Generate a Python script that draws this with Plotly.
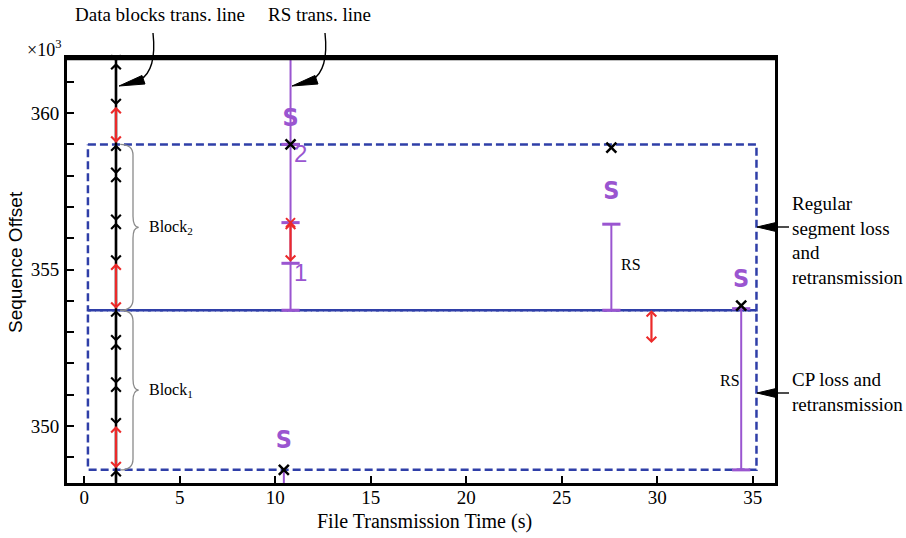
import plotly.graph_objects as go

# ---------------- data (values in units of 10^3 for sequence offset) ----------------
x_ticks = [0, 5, 10, 15, 20, 25, 30, 35]
y_ticks = [350, 355, 360]
y_minor_ticks = [349, 351, 352, 353, 354, 356, 357, 358, 359, 361]

# data-block transmission line
block_time = 1.66
seg_start = [348.6, 350.0, 351.3, 352.65, 353.7, 355.2, 356.5, 358.0, 359.0, 360.2]
seg_end = [350.0, 351.3, 352.65, 353.7, 355.2, 356.5, 358.0, 359.0, 360.2, 361.6]
seg_retrans = [True, False, False, False, True, False, False, False, True, False]

# block boundaries (block1: low..mid, block2: mid..high)
block_bounds = [348.6, 353.7, 359.0]
block_labels = ["Block<sub>1</sub>", "Block<sub>2</sub>"]
rect_t0, rect_t1 = 0.19, 35.2

# RS transmission line
rs_line_time = 10.8
rs_line_start = 353.7
rs_caps = [353.7, 355.2, 356.5, 359.0]
rs_retx_lo, rs_retx_hi = 355.2, 356.5
rs_num_seq = [355.2, 359.0]
rs_num_text = ["1", "2"]

# separate RS retransmissions
rs_time = [27.6, 34.4]
rs_lo = [353.7, 348.6]
rs_hi = [356.45, 353.75]
rs_label_time = [28.0, 33.2]
rs_label_seq = [355.15, 351.45]

# lost segments (X marks)
loss_time = [10.8, 10.45, 27.6, 34.4]
loss_seq = [359.0, 348.6, 358.9, 353.85]

# "S" marks
s_time = [10.8, 10.45, 27.6, 34.4]
s_seq = [359.8, 349.5, 357.45, 354.65]

# CP loss arrow
cp_time = 29.7
cp_lo, cp_hi = 352.65, 353.75

# ---------------- styling ----------------
W, H = 906, 538
ML, MR, MT, MB = 67, 131, 58, 55
X_RANGE = [-0.906, 36.17]
Y_RANGE = [348.18, 361.76]
BLACK = "#000000"
RED = "#ec2a2a"
PURPLE = "#9a55d0"
BLUE = "#2f3fa8"
GRAY = "#8a8a8a"
SERIF = "Liberation Serif, Times New Roman, serif"
SANS = "Liberation Sans, Arial, sans-serif"
COND = "Liberation Sans Narrow, DejaVu Sans Condensed, Liberation Sans"


def px(x):
    return (x - ML) / (W - ML - MR)


def py(y):
    return (H - MB - y) / (H - MT - MB)


fig = go.Figure()

# dashed block rectangles
for lo, hi in zip(block_bounds[:-1], block_bounds[1:]):
    fig.add_trace(go.Scatter(
        x=[rect_t0, rect_t1, rect_t1, rect_t0, rect_t0], y=[hi, hi, lo, lo, hi],
        mode="lines", line=dict(color=BLUE, width=2.5, dash="8px,4px"),
        hoverinfo="skip", showlegend=False))

# data block line (full height)
fig.add_trace(go.Scatter(x=[block_time, block_time], y=Y_RANGE, mode="lines",
                         line=dict(color=BLACK, width=2.5), showlegend=False))

# RS line
fig.add_trace(go.Scatter(x=[rs_line_time, rs_line_time], y=[rs_line_start, Y_RANGE[1]],
                         mode="lines", line=dict(color=PURPLE, width=2), showlegend=False))
fig.add_trace(go.Scatter(x=[loss_time[1], loss_time[1]], y=[Y_RANGE[0], loss_seq[1]],
                         mode="lines", line=dict(color=PURPLE, width=2), showlegend=False))

# other RS segments
for t, lo, hi in zip(rs_time, rs_lo, rs_hi):
    fig.add_trace(go.Scatter(x=[t, t], y=[lo, hi], mode="lines",
                             line=dict(color=PURPLE, width=2), showlegend=False))
cap_x = [rs_line_time] * len(rs_caps) + rs_time + rs_time
cap_y = rs_caps + rs_lo + rs_hi
fig.add_trace(go.Scatter(x=cap_x, y=cap_y, mode="markers",
                         marker=dict(symbol="line-ew", size=13, color=PURPLE,
                                     line=dict(width=3, color=PURPLE)),
                         showlegend=False))

# segment arrows on data-block line
for s, e, rt in zip(seg_start, seg_end, seg_retrans):
    c = RED if rt else BLACK
    fig.add_annotation(x=block_time, y=e, ax=block_time, ay=s, xref="x", yref="y",
                       axref="x", ayref="y", text="", showarrow=True,
                       arrowhead=4, startarrowhead=4, arrowside="end+start",
                       arrowsize=0.85, startarrowsize=0.85, arrowwidth=2.2, arrowcolor=c)
# partial segments at the frame edges
fig.add_annotation(x=block_time, y=Y_RANGE[1], ax=block_time, ay=seg_end[-1], xref="x", yref="y",
                   axref="x", ayref="y", text="", showarrow=True, arrowside="start",
                   startarrowhead=4, startarrowsize=0.85, arrowwidth=2.2, arrowcolor=BLACK)
fig.add_annotation(x=block_time, y=seg_start[0], ax=block_time, ay=Y_RANGE[0], xref="x", yref="y",
                   axref="x", ayref="y", text="", showarrow=True, arrowside="end",
                   arrowhead=4, arrowsize=0.85, arrowwidth=2.2, arrowcolor=BLACK)

# red retransmission on RS line
fig.add_annotation(x=rs_line_time, y=rs_retx_hi, ax=rs_line_time, ay=rs_retx_lo, xref="x", yref="y",
                   axref="x", ayref="y", text="", showarrow=True,
                   arrowhead=4, startarrowhead=4, arrowside="end+start",
                   arrowsize=0.85, startarrowsize=0.85, arrowwidth=2.2, arrowcolor=RED)
fig.add_trace(go.Scatter(x=[rs_line_time], y=[rs_retx_hi], mode="markers",
                         marker=dict(symbol="x-thin", size=9, color=RED, line=dict(width=2, color=RED)),
                         showlegend=False))

# CP arrow
fig.add_annotation(x=cp_time, y=cp_lo, ax=cp_time, ay=cp_hi, xref="x", yref="y",
                   axref="x", ayref="y", text="", showarrow=True,
                   arrowhead=4, startarrowhead=4, arrowside="end+start",
                   arrowsize=0.85, startarrowsize=0.85, arrowwidth=2.2, arrowcolor=RED)

# loss X marks
fig.add_trace(go.Scatter(x=loss_time, y=loss_seq, mode="markers",
                         marker=dict(symbol="x-thin", size=10, color=BLACK,
                                     line=dict(width=2.5, color=BLACK)),
                         showlegend=False))

# S marks
fig.add_trace(go.Scatter(x=s_time, y=s_seq, mode="text", text=["S"] * len(s_time),
                         textfont=dict(family=COND, size=25, color=PURPLE, weight="bold"),
                         showlegend=False))

# RS numbers
for yv, t in zip(rs_num_seq, rs_num_text):
    fig.add_annotation(x=rs_line_time, y=yv, xref="x", yref="y", text=t, showarrow=False,
                       xanchor="left", yanchor="middle", xshift=1, yshift=-9,
                       font=dict(family=SANS, size=24, color=PURPLE))

# RS labels
for t, yv in zip(rs_label_time, rs_label_seq):
    fig.add_annotation(x=t, y=yv, xref="x", yref="y", text="RS", showarrow=False,
                       xanchor="left", yanchor="middle",
                       font=dict(family=SERIF, size=16, color=BLACK))


# braces and block labels
def brace(y_top, y_bot, x0=1.88, x1=2.55, x2=2.85, r=0.35):
    ym = (y_top + y_bot) / 2
    return (f"M {x0},{y_top} Q {x1},{y_top} {x1},{y_top - r} L {x1},{ym + r} "
            f"Q {x1},{ym} {x2},{ym} Q {x1},{ym} {x1},{ym - r} L {x1},{y_bot + r} "
            f"Q {x1},{y_bot} {x0},{y_bot}")


for (lo, hi), lab in zip(zip(block_bounds[:-1], block_bounds[1:]), block_labels):
    fig.add_shape(type="path", path=brace(hi, lo), xref="x", yref="y",
                  line=dict(color=GRAY, width=1.3))
    fig.add_annotation(x=3.3, y=(lo + hi) / 2, xref="x", yref="y", text=lab, showarrow=False,
                       xanchor="left", yanchor="middle",
                       font=dict(family=SERIF, size=16, color=BLACK))


# callout curves and arrowheads (paper coords)
def curve(p0, c, p1):
    return f"M {px(p0[0])},{py(p0[1])} Q {px(c[0])},{py(c[1])} {px(p1[0])},{py(p1[1])}"


def tri(a, b, c):
    return (f"M {px(a[0])},{py(a[1])} L {px(b[0])},{py(b[1])} L {px(c[0])},{py(c[1])} Z")


for (p0, c, p1), (a, b, cc) in [
    (((153, 33), (157, 70), (140, 80)), ((119, 86), (142, 75.5), (145, 84))),
    (((325, 33), (329, 70), (312, 80)), ((292, 86), (315, 75.5), (318, 84))),
]:
    fig.add_shape(type="path", path=curve(p0, c, p1), xref="paper", yref="paper",
                  line=dict(color=BLACK, width=1.4))
    fig.add_shape(type="path", path=tri(a, b, cc), xref="paper", yref="paper",
                  line=dict(color=BLACK, width=1), fillcolor=BLACK)

for yy in [227, 393]:
    fig.add_shape(type="line", x0=px(770), x1=px(789), y0=py(yy), y1=py(yy),
                  xref="paper", yref="paper", line=dict(color=BLACK, width=1.4))
    fig.add_shape(type="path", path=tri((757, yy), (776, yy - 4.5), (776, yy + 4.5)),
                  xref="paper", yref="paper", line=dict(color=BLACK, width=1), fillcolor=BLACK)

# heavier top frame edge
fig.add_shape(type="line", x0=0, x1=1, y0=1, y1=1, xref="paper", yref="paper",
              line=dict(color=BLACK, width=4.5))


# texts
def ptext(x, y, text, size=19, family=SERIF, xanchor="center", yanchor="middle", angle=0, align="center"):
    fig.add_annotation(x=px(x), y=py(y), xref="paper", yref="paper", text=text, showarrow=False,
                       xanchor=xanchor, yanchor=yanchor, textangle=angle, align=align,
                       font=dict(family=family, size=size, color=BLACK))


ptext(160, 14, "Data blocks trans. line")
ptext(319, 14, "RS trans. line")
ptext(44, 49, "×10<sup>3</sup>", size=18)
ptext(790, 240, "Regular<br>segment loss<br>and<br>retransmission", xanchor="left", align="left")
ptext(790, 392, "CP loss and<br>retransmission", xanchor="left", align="left")
ptext(425, 521, "File Transmission Time (s)", size=20)
ptext(15, 262, "Sequence Offset", size=19, family=SANS, angle=-90)

axis_common = dict(showgrid=False, zeroline=False, showline=True, linewidth=3, linecolor=BLACK,
                   mirror=True, ticks="inside", ticklen=7, tickwidth=2, tickcolor=BLACK,
                   tickfont=dict(family=SERIF, size=19, color=BLACK))

fig.update_layout(
    width=W, height=H, margin=dict(l=ML, r=MR, t=MT, b=MB, autoexpand=False),
    font=dict(family=SERIF, color=BLACK),
    paper_bgcolor="white", plot_bgcolor="white", showlegend=False,
    xaxis=dict(range=X_RANGE, tickmode="array", tickvals=x_ticks, ticklabelstandoff=-5,
               **axis_common),
    yaxis=dict(range=Y_RANGE, tickmode="array", tickvals=y_ticks, ticklabelstandoff=1,
               minor=dict(tickmode="array", tickvals=y_minor_ticks, ticks="inside", ticklen=7,
                          tickwidth=2, tickcolor=BLACK, showgrid=False),
               **axis_common),
)

fig.write_html("out.html", config={"displayModeBar": False})

# remove the browser's default page margin so the figure sits at the top-left corner
with open("out.html", "r", encoding="utf-8") as f:
    html = f.read()
html = html.replace("<body>", '<body style="margin:0;padding:0;">', 1)
with open("out.html", "w", encoding="utf-8") as f:
    f.write(html)
